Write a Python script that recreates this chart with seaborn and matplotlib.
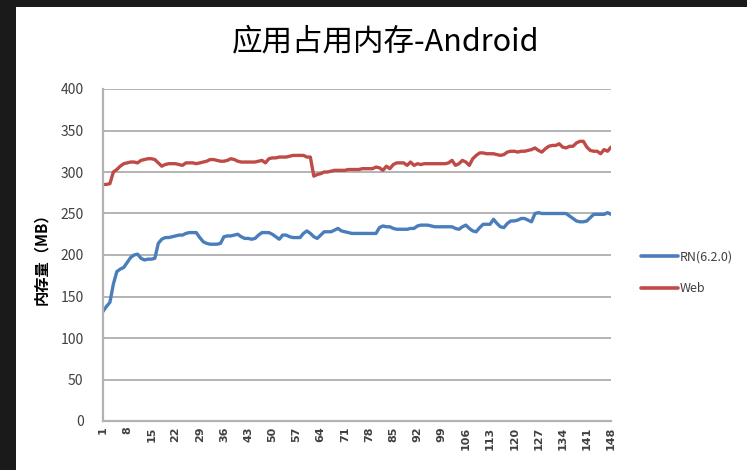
import numpy as np
import pandas as pd
import matplotlib
matplotlib.use("Agg")
import matplotlib.pyplot as plt
from matplotlib.patches import Rectangle
import seaborn as sns

title = "应用占用内存-Android"
y_label = "内存量（MB）"
series_names = ["RN(6.2.0)", "Web"]

samples = list(range(1, 149))

rn_mem = [
    132, 138, 143, 165, 180, 183, 185, 191, 197, 200,
    201, 196, 194, 195, 195, 196, 214, 219, 221, 221,
    222, 223, 224, 224, 226, 227, 227, 227, 221, 216,
    214, 213, 213, 213, 214, 222, 223, 223, 224, 225,
    222, 220, 220, 219, 220, 224, 227, 227, 227, 225,
    222, 219, 224, 224, 222, 221, 221, 221, 226, 229,
    226, 222, 220, 224, 228, 228, 228, 230, 232, 229,
    228, 227, 226, 226, 226, 226, 226, 226, 226, 226,
    233, 235, 234, 234, 232, 231, 231, 231, 231, 232,
    232, 235, 236, 236, 236, 235, 234, 234, 234, 234,
    234, 234, 232, 231, 234, 236, 232, 229, 228, 233,
    237, 237, 237, 243, 238, 234, 233, 238, 241, 241,
    242, 244, 244, 242, 240, 250, 251, 250, 250, 250,
    250, 250, 250, 250, 250, 247, 244, 241, 240, 240,
    241, 245, 249, 249, 249, 249, 251, 249,
]

web_mem = [
    285, 285, 286, 300, 303, 307, 310, 311, 312, 312,
    311, 314, 315, 316, 316, 315, 311, 307, 309, 310,
    310, 310, 309, 308, 311, 311, 311, 310, 311, 312,
    313, 315, 315, 314, 313, 313, 314, 316, 315, 313,
    312, 312, 312, 312, 312, 313, 314, 311, 316, 317,
    317, 318, 318, 318, 319, 320, 320, 320, 320, 318,
    318, 295, 297, 298, 300, 300, 301, 302, 302, 302,
    302, 303, 303, 303, 303, 304, 304, 304, 304, 306,
    305, 302, 307, 304, 309, 311, 311, 311, 308, 312,
    308, 310, 309, 310, 310, 310, 310, 310, 310, 310,
    311, 314, 308, 310, 314, 312, 308, 316, 320, 323,
    323, 322, 322, 322, 321, 320, 321, 324, 325, 325,
    324, 325, 325, 326, 327, 329, 326, 324, 328, 331,
    332, 332, 334, 330, 329, 331, 331, 335, 337, 337,
    330, 326, 325, 325, 322, 327, 325, 330,
]

y_ticks = list(range(0, 401, 50))
x_ticks = list(range(1, 149, 7))

colors = ["#4a7ebb", "#be4b48"]

df = pd.DataFrame({
    "sample": samples * 2,
    "mem": rn_mem + web_mem,
    "series": [series_names[0]] * len(samples) + [series_names[1]] * len(samples),
})

sns.set_style("white")
plt.rcParams["font.family"] = ["Noto Sans CJK SC", "DejaVu Sans"]

fig = plt.figure(figsize=(7.47, 4.70), dpi=100)
fig.patch.set_facecolor("#1a1a1a")
# white card inside the dark frame
fig.add_artist(Rectangle((16 / 747, 0), 1, 1 - 7 / 470, transform=fig.transFigure,
                         facecolor="white", edgecolor="none", zorder=-1))

ax = fig.add_axes([103 / 747, 1 - 421 / 470, 508 / 747, 332 / 470])
ax.set_facecolor("white")

sns.lineplot(data=df, x="sample", y="mem", hue="series", palette=colors,
             linewidth=2.4, ax=ax, legend=False)

ax.set_xlim(1, 148)
ax.set_ylim(0, 400)
ax.set_yticks(y_ticks)
ax.set_xticks(x_ticks)
ax.set_xticklabels([str(t) for t in x_ticks], rotation=90, fontsize=8,
                   fontweight="bold", color="#404040", family="DejaVu Sans")
ax.set_yticklabels([str(t) for t in y_ticks], fontsize=10, color="#404040")
ax.tick_params(axis="y", length=0, pad=14)
ax.tick_params(axis="x", length=0, pad=4)

ax.grid(axis="y", color="#b3b3b3", linewidth=1.4)
ax.set_axisbelow(True)
for side in ["top", "right"]:
    ax.spines[side].set_visible(False)
for side in ["left", "bottom"]:
    ax.spines[side].set_color("#b3b3b3")
    ax.spines[side].set_linewidth(1.6)

ax.set_xlabel("")
ax.set_ylabel(y_label, fontsize=11, fontweight="bold", color="black", labelpad=8)

fig.text(386 / 747, 1 - 42 / 470, title, ha="center", va="center", fontsize=22,
         fontweight="medium", color="black")

# legend placed to the right of the plot like the original
handles = [plt.Line2D([], [], color=c, linewidth=2.6) for c in colors]
fig.legend(handles, series_names, loc="center left",
           bbox_to_anchor=(630 / 747, 1 - 273 / 470), frameon=False,
           fontsize=9, handlelength=2.9, handletextpad=0.15, labelspacing=1.5,
           labelcolor="#404040")

fig.savefig("out.png", dpi=100, facecolor=fig.get_facecolor())
